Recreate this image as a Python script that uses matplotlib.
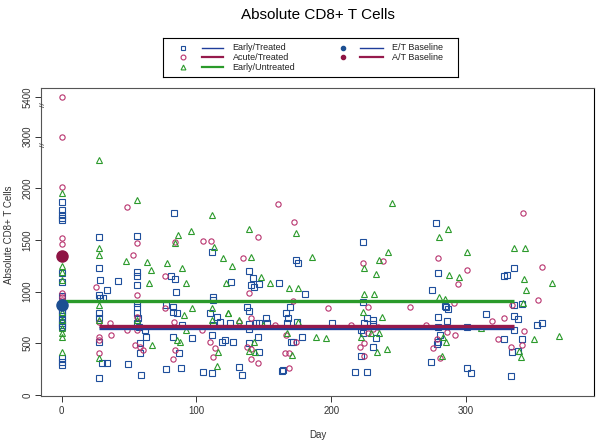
import numpy as np
import matplotlib
matplotlib.use("Agg")
import matplotlib.pyplot as plt

plt.rcParams['font.family'] = ['Liberation Sans', 'DejaVu Sans']

# ---------------- data ----------------
et_day = [0]*19 + [27.9, 27.9, 28.5, 27.9, 28.5, 27.9, 27.9, 27.9, 29.5, 27.9, 33.4, 30.9, 33.4, 41.5, 49.4,
          55.6, 55.6, 55.6, 55.6, 55.6, 55.6, 55.6, 56.5, 55.6, 57.0, 58.1, 58.1, 58.8, 62.5, 61.8,
          83.6, 80.9, 84.0, 84.8, 77.4, 82.8, 85.8, 82.8, 89.0, 82.3, 87.0, 77.4, 88.3, 96.9, 105.0,
          111.7, 112.0, 112.5, 110.0, 115.4, 117.4, 112.5, 111.7, 118.7, 111.3,
          125.6, 124.9, 127.3, 121.1, 131.5, 133.5, 139.2, 142.1, 140.4, 142.9, 146.6, 161.2, 137.2, 139.2,
          139.2, 139.2, 144.1, 146.6, 151.6, 152.6, 145.4, 139.2, 146.6, 173.6, 175.5, 180.5, 169.4, 166.4,
          168.1, 167.4, 174.3, 178.5, 170.1, 171.8, 164.4, 163.7, 200.3,
          223.3, 223.3, 226.3, 230.7, 224.5, 230.7, 222.0, 223.3, 233.2, 231.2, 222.0, 217.6, 226.3,
          277.7, 279.4, 330.1, 328.1, 335.8, 274.7, 341.2, 284.4, 335.8, 285.1, 286.8, 314.5, 279.4, 335.8,
          338.3, 285.6, 356.5, 352.8, 279.4, 300.9, 335.8, 280.6, 328.3, 341.2, 279.4, 278.6, 334.3, 338.3,
          273.7, 300.4, 303.6, 333.3]
et_val = [1870, 1790, 1742, 1713, 1693, 1180, 1096, 960, 854, 820, 790, 760, 730, 700, 680, 660, 358, 322, 290,
          1532, 1226, 1113, 968, 938, 790, 740, 516, 310, 164, 1016, 936, 313, 1106, 300,
          1541, 1193, 1150, 1064, 890, 854, 790, 740, 700, 658, 503, 406, 193, 564, 629,
          1764, 1151, 1119, 1000, 871, 854, 790, 806, 677, 564, 403, 252, 264, 548, 226,
          1380, 951, 919, 790, 758, 709, 677, 580, 516, 210,
          1096, 693, 516, 532, 274, 193, 1200, 1135, 1064, 1048, 1074, 1080, 854, 816,
          684, 639, 693, 693, 742, 693, 558, 500, 419, 1306, 1274, 977, 854, 790,
          742, 693, 709, 558, 516, 516, 242, 235, 693,
          1483, 903, 748, 726, 693, 684, 629, 597, 548, 461, 380, 226, 226,
          1667, 1183, 1161, 1151, 1232, 1016, 880, 861, 871, 854, 829, 780, 758, 767,
          735, 716, 700, 677, 661, 661, 629, 580, 542, 542, 516, 493, 419, 429,
          322, 264, 210, 187]

at_day = [0]*8 + [25.4, 27.9, 27.9, 27.9, 27.9, 35.8, 36.6, 48.7, 52.7, 48.7, 55.6, 55.6, 55.6, 55.6, 54.4,
          58.1, 60.5, 76.6, 76.6, 83.3, 84.0, 82.3, 84.0, 103.9, 104.6, 110.5, 110.0, 113.7, 112.0,
          134.3, 139.2, 131.5, 140.4, 158.2, 137.2, 140.4, 140.4, 145.4, 160.7, 145.4, 172.3, 171.4, 166.4,
          173.6, 165.7, 168.6, 168.6, 197.8, 214.6, 223.3, 238.6, 227.0, 234.4, 230.7, 227.0, 224.5, 221.3,
          224.5, 258.4,
          342.4, 279.4, 356.5, 300.9, 293.8, 353.1, 291.3, 333.8, 328.1, 319.4, 270.3, 343.2, 285.6, 291.8,
          323.9, 278.2, 341.2, 333.3, 275.7, 280.6]
at_val = [5400, 2990, 2022, 1516, 1464, 987, 950, 919,
          1048, 564, 532, 406, 709, 697, 580, 1822, 1355, 629, 1467, 968, 758, 629, 484,
          460, 435, 1155, 839, 709, 435, 348, 1483, 629, 1490, 1493, 516, 451, 364,
          1322, 984, 709, 748, 677, 461, 442, 345, 306, 1848, 1532, 1671, 912, 580,
          516, 409, 403, 261, 839, 677, 1280, 1300, 854, 661, 636, 597, 500, 467,
          380, 854,
          1758, 1322, 1242, 1209, 1074, 919, 893, 871, 742, 716, 677, 622, 613, 580,
          539, 542, 484, 467, 451, 355]

eu_day = [0]*10 + [27.9, 27.9, 27.9, 27.9, 27.9, 27.9, 47.7, 55.6, 63.1, 66.0, 65.0, 55.6, 66.8,
          77.9, 84.0, 86.5, 95.7, 89.0, 92.0, 96.4, 90.7, 92.2, 85.3, 87.8,
          111.7, 113.0, 119.9, 121.9, 111.3, 123.1, 111.3, 116.2, 115.0,
          126.6, 123.6, 131.8, 139.0, 140.4, 147.8, 154.5, 149.6, 142.9, 139.0, 143.4, 173.8, 185.9, 175.1,
          168.8, 175.1, 166.9, 171.1, 188.4, 195.8,
          244.8, 224.5, 241.8, 235.4, 233.2, 224.5, 231.9, 223.3, 237.8, 229.5, 235.4, 222.0, 241.1, 233.7,
          286.8, 279.9, 335.8, 343.7, 300.4, 287.3, 295.0, 343.0, 363.9, 344.4, 279.9, 284.4, 342.4, 310.8,
          283.1, 350.4, 368.9, 284.9, 339.5, 340.7, 282.4]
eu_val = [1958, 1250, 1193, 1113, 800, 726, 650, 600, 561, 419,
          2548, 1422, 1355, 871, 726, 358, 1300, 1887, 1290, 1209, 1080, 726, 484,
          1274, 1474, 1548, 1590, 1226, 1080, 839, 774, 629, 532, 516,
          1742, 1435, 1322, 1080, 845, 790, 726, 419, 284,
          1248, 790, 726, 1603, 1338, 1145, 1087, 677, 516, 429, 419, 1571, 1332, 1032,
          1032, 709, 603, 387, 564, 548,
          1854, 1226, 1380, 1306, 1171, 977, 977, 806, 758, 597, 603, 558, 445, 419,
          1606, 1532, 1425, 1425, 1380, 1161, 1139, 1122, 1087, 1016, 951, 926, 893, 645,
          564, 539, 571, 516, 429, 364, 377]

# mean lines: (start day, end day, value)
et_line = (28, 336, 648)
at_line = (28, 336, 663)
eu_line = (0, 336, 905)
# baselines
et_base = (0, 873)
at_base = (0, 1343)

x_ticks = [0, 100, 200, 300]
y_ticks = [0, 500, 1000, 1500, 2000, 3000, 5400]
y_tick_labels = ['0', '500', '1000', '1500', '2000', '3000', '5400']

c_blue = '#1f4f9c'
c_red = '#b8336e'
c_green = '#2c9a2c'
c_line_blue = '#1f3d9a'
c_line_red = '#961a4c'
c_line_green = '#2a9a2a'
c_base_red = '#8e1444'
c_base_blue = '#1c4f92'

# broken-axis scale (piecewise linear)
_xp = np.array([-10000.0, 0.0, 2000.0, 3000.0, 5400.0, 100000.0])
_fp = np.array([-10000.0, 0.0, 2000.0, 2500.0, 2884.0, 2884.0 + 94600 * 0.16])

def fwd(v):
    return np.interp(v, _xp, _fp)

def inv(d):
    return np.interp(d, _fp, _xp)

W, H = 600, 440
fig = plt.figure(figsize=(6, 4.4), dpi=100)
ax = fig.add_axes([41 / W, 1 - 396 / H, 553 / W, 308 / H])
ax.set_yscale('function', functions=(fwd, inv))

ax.plot(et_day, et_val, ls='none', marker='s', ms=3.7, mfc='none', mec=c_blue, mew=0.8)
ax.plot(at_day, at_val, ls='none', marker='o', ms=3.8, mfc='none', mec=c_red, mew=0.8)
ax.plot(eu_day, eu_val, ls='none', marker='^', ms=3.8, mfc='none', mec=c_green, mew=0.8)

ax.plot([eu_line[0], eu_line[1]], [eu_line[2]] * 2, color=c_line_green, lw=2.4, solid_capstyle='butt')
ax.plot([et_line[0], et_line[1]], [et_line[2]] * 2, color=c_line_blue, lw=2.4, solid_capstyle='butt')
ax.plot([at_line[0], at_line[1]], [at_line[2]] * 2, color=c_line_red, lw=2.4, solid_capstyle='butt')

ax.plot([at_base[0]], [at_base[1]], ls='none', marker='o', ms=8, color=c_base_red)
ax.plot([et_base[0]], [et_base[1]], ls='none', marker='o', ms=8, color=c_base_blue)

ax.set_xlim(-15.4, 395)
ax.set_ylim(-10, inv(2970))
ax.set_xticks(x_ticks)
ax.set_xticklabels([str(t) for t in x_ticks])
ax.set_yticks(y_ticks)
ax.set_yticklabels(y_tick_labels, rotation=90, va='center')
ax.minorticks_off()
ax.tick_params(axis='both', direction='out', length=4, width=0.7, labelsize=7, colors='#333333')
ax.tick_params(axis='y', pad=2)
ax.tick_params(axis='x', pad=3)
for s in ax.spines.values():
    s.set_linewidth(0.8)
    s.set_color('#555555')
ax.spines['right'].set_color('#000000')

# break marks on y axis
for yv in [2838, 4912]:
    ax.text(0.004, yv, '//', transform=ax.get_yaxis_transform(), rotation=90,
            fontsize=6, ha='center', va='center', color='#333333')

ax.set_xlabel('Day', fontsize=7, color='#333333')
ax.xaxis.set_label_coords(0.5, -(430 - 396) / 308)
ax.set_ylabel('Absolute CD8+ T Cells', fontsize=7, color='#333333')
ax.yaxis.set_label_coords(-(41 - 14) / 553, (396 - 235) / 308)

fig.text(317.5 / W, 1 - 15 / H, 'Absolute CD8+ T Cells', ha='center', va='center', fontsize=11)

# legend drawn in its own axes (pixel coordinates)
lx0, lx1, ly0, ly1 = 162.7, 457.7, 37.7, 76.7
lax = fig.add_axes([lx0 / W, 1 - ly1 / H, (lx1 - lx0) / W, (ly1 - ly0) / H])
lax.set_xlim(lx0, lx1)
lax.set_ylim(ly1, ly0)
lax.set_xticks([])
lax.set_yticks([])
for s in lax.spines.values():
    s.set_linewidth(0.8)
    s.set_color('#000000')

rows = [47.7, 57.3, 67.0]
col1 = [('s', c_blue, c_line_blue, 'Early/Treated'),
        ('o', c_red, c_line_red, 'Acute/Treated'),
        ('^', c_green, c_line_green, 'Early/Untreated')]
for (m, mc, lc, lab), yy in zip(col1, rows):
    lax.plot([183.3], [yy], ls='none', marker=m, ms=3.5, mfc='none', mec=mc, mew=0.8)
    lax.plot([201.7, 223.3], [yy, yy], color=lc, lw=1.6 if lc != c_line_blue else 1.0)
    lax.text(232.7, yy, lab, fontsize=6.5, va='center', ha='left', color='#222222')
col2 = [(c_base_blue, c_line_blue, 'E/T Baseline'),
        (c_base_red, c_line_red, 'A/T Baseline')]
for (mc, lc, lab), yy in zip(col2, rows[:2]):
    lax.plot([342.7], [yy], ls='none', marker='o', ms=3, color=mc)
    lax.plot([360, 382.7], [yy, yy], color=lc, lw=1.6 if lc != c_line_blue else 1.0)
    lax.text(391.7, yy, lab, fontsize=6.5, va='center', ha='left', color='#222222')

fig.savefig('out.png', dpi=100)
